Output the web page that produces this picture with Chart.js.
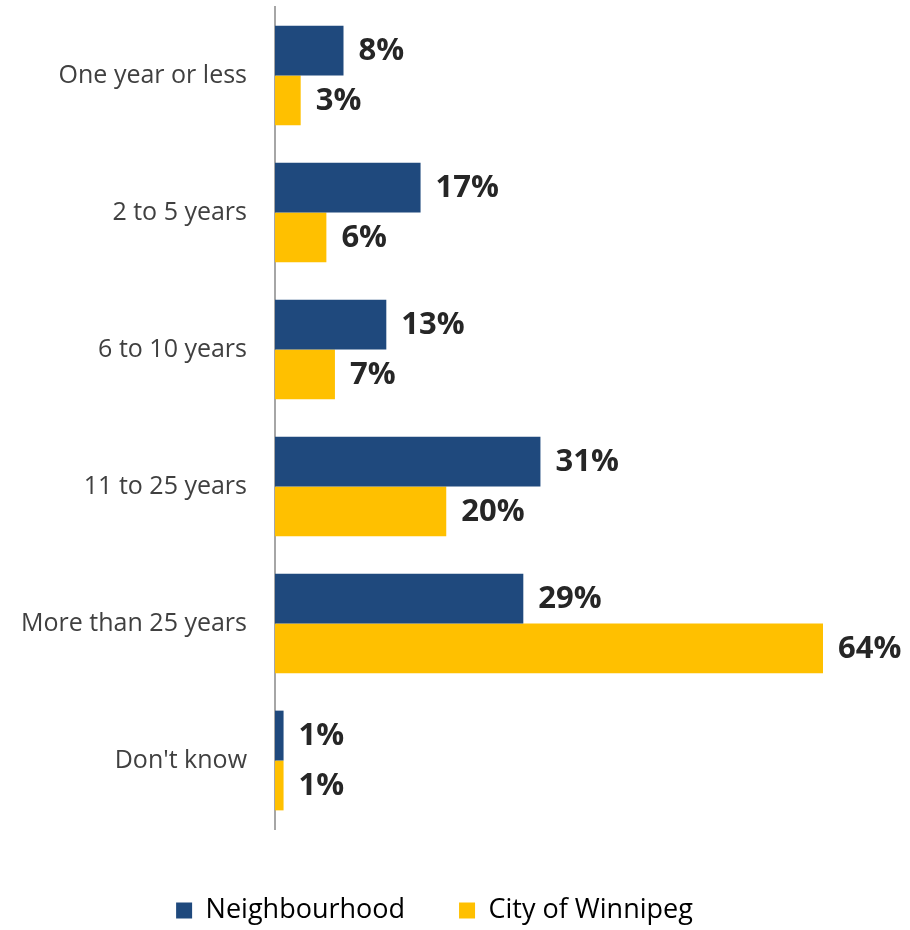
<!DOCTYPE html>
<html>
<head>
<meta charset="utf-8">
<script src="https://cdn.jsdelivr.net/npm/chart.js@4"></script>
<style>
  html, body { margin: 0; padding: 0; background: #fff; }
  #wrap { width: 910px; height: 930px; }
</style>
</head>
<body>
<div id="wrap"><canvas id="chart" width="910" height="930"></canvas></div>
<script>
const categories = ['One year or less', '2 to 5 years', '6 to 10 years', '11 to 25 years', 'More than 25 years', "Don't know"];
const neighbourhood = [8, 17, 13, 31, 29, 1];
const winnipeg = [3, 6, 7, 20, 64, 1];
const seriesNames = ['Neighbourhood', 'City of Winnipeg'];

// value labels at the end of each bar
const barLabels = {
  id: 'barLabels',
  afterDatasetsDraw(chart) {
    const ctx = chart.ctx;
    ctx.save();
    ctx.font = 'bold 31px "Open Sans"';
    ctx.fillStyle = '#262626';
    ctx.textAlign = 'left';
    ctx.textBaseline = 'middle';
    chart.data.datasets.forEach((ds, i) => {
      chart.getDatasetMeta(i).data.forEach((bar, j) => {
        ctx.fillText(ds.data[j] + '%', bar.x + 15, bar.y + 1);
      });
    });
    ctx.restore();
  }
};

// keep legend short and push it down/right a bit
const legendSpot = {
  id: 'legendSpot',
  beforeInit(chart) {
    const fit = chart.legend.fit;
    chart.legend.fit = function () {
      fit.bind(chart.legend)();
      this.height = 101;
    };
  },
  afterLayout(chart) {
    const lg = chart.legend;
    lg.top += 14; lg.bottom += 14;
    lg.left += 23; lg.right += 23;
  }
};

new Chart(document.getElementById('chart'), {
  type: 'bar',
  data: {
    labels: categories,
    datasets: [
      { label: seriesNames[0], data: neighbourhood, backgroundColor: '#1f497d' },
      { label: seriesNames[1], data: winnipeg, backgroundColor: '#ffc000' }
    ]
  },
  options: {
    indexAxis: 'y',
    responsive: false,
    animation: false,
    categoryPercentage: 0.728,
    barPercentage: 1,
    layout: { padding: { top: 7, right: 87, left: 0, bottom: 0 } },
    scales: {
      x: { display: false, min: 0, max: 64 },
      y: {
        grid: { display: false },
        border: { display: true, color: '#a6a6a6', width: 2 },
        ticks: { color: '#404040', font: { family: 'Open Sans', size: 25 }, padding: 20 },
        afterFit(scale) {
          scale.width = 275;
          scale.paddingTop = 0;
          scale.paddingBottom = 0;
        }
      }
    },
    plugins: {
      tooltip: { enabled: false },
      legend: {
        position: 'bottom',
        labels: {
          boxWidth: 16, boxHeight: 16, padding: 54,
          color: '#000', font: { family: 'Open Sans', size: 27 }
        }
      }
    }
  },
  plugins: [barLabels, legendSpot]
});
</script>
</body>
</html>
